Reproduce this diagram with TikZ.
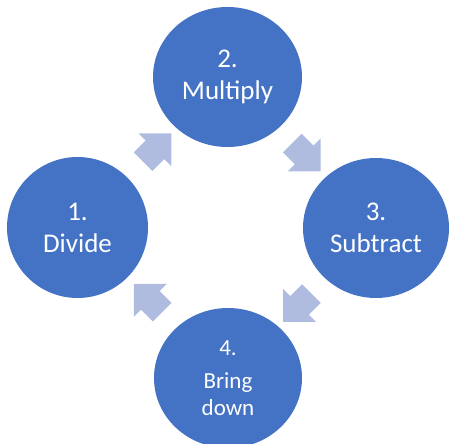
\documentclass[tikz,border=0pt]{standalone}
\usepackage{fontspec}
\setmainfont{Carlito}
\usetikzlibrary{shapes.geometric, shapes.arrows, calc}
\definecolor{stepblue}{RGB}{68,114,196}
\definecolor{arrowblue}{RGB}{175,188,224}

\begin{document}
\begin{tikzpicture}[x=1pt, y=-1pt,
    stepcircle/.style={ellipse, fill=stepblue, draw=none, text=white, align=center,
        inner sep=0pt, font=\fontsize{27}{32}\selectfont},
    cyclearrow/.style={single arrow, fill=arrowblue, draw=none,
        inner xsep=0pt, inner ysep=13pt, minimum height=40pt,
        single arrow head extend=10pt, single arrow tip angle=90}]
    \clip (0,0) rectangle (450,444);
    \node[stepcircle, minimum width=141pt, minimum height=141pt] at (77.5,227.5) (divide) {1.\\Divide};
    \node[stepcircle, minimum width=149pt, minimum height=140pt] at (227.5,77) (multiply) {2.\\Multiply};
    \node[stepcircle, minimum width=146pt, minimum height=140pt] at (376,228) (subtract) {3.\\Subtract};
    \node[stepcircle, minimum width=148pt, minimum height=140pt, font=\fontsize{23}{27}\selectfont]
        at (228,378) (bringdown) {4.\\[6pt]Bring\\down};
    % arrows between the steps
    \node[cyclearrow, rotate=45] at ($(divide)!0.5!(multiply)$) (arrA) {};
    \node[cyclearrow, rotate=-45] at ($(multiply)!0.5!(subtract)$) (arrB) {};
    \node[cyclearrow, rotate=-135] at ($(subtract)!0.5!(bringdown)$) (arrC) {};
    \node[cyclearrow, rotate=135] at ($(bringdown)!0.5!(divide)$) (arrD) {};
\end{tikzpicture}
\end{document}
